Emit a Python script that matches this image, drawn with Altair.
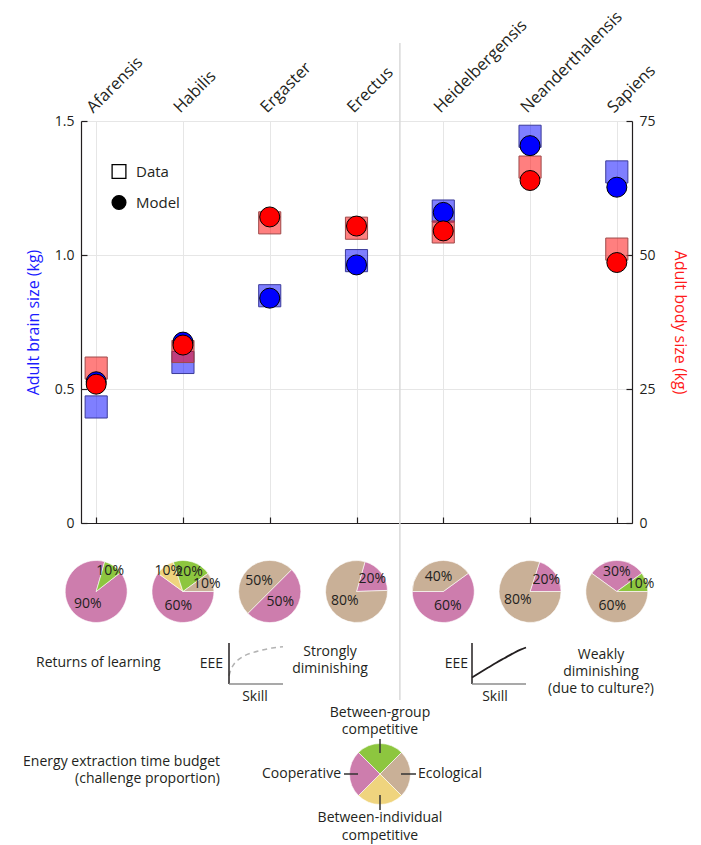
import math
import altair as alt
import pandas as pd

FONT = "Open Sans"
TXT = "#231f20"

# ---------------- data ----------------
species = ["Afarensis", "Habilis", "Ergaster", "Erectus",
           "Heidelbergensis", "Neanderthalensis", "Sapiens"]
brain_data = [0.433, 0.599, 0.848, 0.979, 1.164, 1.443, 1.310]
brain_model = [0.527, 0.675, 0.839, 0.963, 1.159, 1.408, 1.253]
body_data = [28.9, 32.0, 56.0, 55.0, 54.3, 66.4, 51.1]
body_model = [25.9, 33.2, 57.1, 55.4, 54.5, 63.9, 48.6]

challenges = ["Cooperative", "Between-individual competitive",
              "Between-group competitive", "Ecological"]
challenge_colors = ["#cd7dad", "#efd47e", "#8dc63f", "#c9b097"]
cooperative = [90, 60, 50, 20, 60, 20, 30]
between_individual = [0, 10, 0, 0, 0, 0, 0]
between_group = [10, 20, 0, 0, 0, 0, 10]
ecological = [0, 10, 50, 80, 40, 80, 60]
pie_start_deg = [52, 90, 45, 16, 54, 18, 306]

legend_pie_order = ["Between-group competitive", "Ecological",
                    "Between-individual competitive", "Cooperative"]
legend_pie_share = [25, 25, 25, 25]
legend_pie_start = -45

skill_strong = [0.0, 0.04, 0.10, 0.18, 0.30, 0.45, 0.62, 0.80, 1.0]
eee_strong = [0.20, 0.36, 0.50, 0.60, 0.70, 0.77, 0.83, 0.88, 0.91]
skill_weak = [0.0, 0.15, 0.30, 0.45, 0.60, 0.75, 0.90, 1.0]
eee_weak = [0.16, 0.28, 0.40, 0.52, 0.63, 0.74, 0.84, 0.89]

# ---------------- layout ----------------
W, H = 551, 402
idx = list(range(len(species)))
XDOM = [-0.175, 6.175]
BRAIN_DOM = [0, 1.5]
BODY_DOM = [0, 75]
PIE_Y = 470.5
PIE_R = 31


def xenc(field="idx:Q", axis=None):
    return alt.X(field, scale=alt.Scale(domain=XDOM), axis=axis, stack=False)


def one():
    return alt.Data(values=[{}])


def note(text, x, y, align="left", size=14, line_height=None, color=TXT):
    """y is the centre of the first line."""
    kw = dict(text=text, align=align, baseline="middle", fontSize=size,
              color=color, font=FONT)
    if line_height:
        kw["lineHeight"] = line_height
    return alt.Chart(one()).mark_text(**kw).encode(x=alt.value(x), y=alt.value(y))


def seg(x1, y1, x2, y2, color="#333333", width=1.5):
    return alt.Chart(one()).mark_rule(color=color, strokeWidth=width).encode(
        x=alt.value(x1), x2=alt.value(x2), y=alt.value(y1), y2=alt.value(y2))


# ---------------- axes ----------------
grid_col = "#e6e6e6"
axis_bottom = alt.Axis(orient="bottom", values=idx, labels=False, ticks=False,
                       tickSize=0, domain=True, domainColor=TXT, domainWidth=1.2,
                       grid=True, gridColor=grid_col, gridWidth=1, title=None)
axis_bottom_ticks = alt.Axis(orient="top", offset=-H, values=idx, labels=False,
                             domain=False, ticks=True, tickSize=6, tickColor=TXT,
                             tickWidth=1.2, grid=False, title=None)
axis_left = alt.Axis(orient="left", values=[0, 0.5, 1.0, 1.5],
                     labelExpr="datum.value == 0 ? '0' : format(datum.value, '.1f')",
                     title="Adult brain size (kg)", titleColor="#1a1aff",
                     titleFontSize=16, titleFontWeight="normal", titlePadding=13,
                     labelFontSize=14, labelPadding=7, labelColor=TXT,
                     ticks=False, tickSize=0, domainColor=TXT, domainWidth=1.2,
                     grid=True, gridColor=grid_col, gridWidth=1)
axis_right = alt.Axis(orient="right", values=[0, 25, 50, 75],
                      title="Adult body size (kg)", titleColor="#ff1a1a",
                      titleFontSize=16, titleFontWeight="normal", titlePadding=16,
                      labelFontSize=14, labelPadding=7, labelColor=TXT,
                      ticks=False, tickSize=0, domainColor=TXT, domainWidth=1.2,
                      grid=False)
axis_left_ticks = alt.Axis(orient="right", offset=-W, values=[0, 0.5, 1.0, 1.5],
                           labels=False, domain=False, ticks=True, tickSize=6,
                           tickColor=TXT, tickWidth=1.2, grid=False, title=None)
axis_right_ticks = alt.Axis(orient="left", offset=-W, values=[0, 25, 50, 75],
                            labels=False, domain=False, ticks=True, tickSize=6,
                            tickColor=TXT, tickWidth=1.2, grid=False, title=None)


def scatter(values, ydom, series, fill_col, stroke_col, kind, shape, size,
            fill_opacity, y_axis=None, x_axis=None, legend=None):
    df = pd.DataFrame({"idx": idx, "value": values, "series": series, "kind": kind})
    return alt.Chart(df).mark_point(filled=True, size=size, opacity=1,
                                    fillOpacity=fill_opacity, strokeWidth=1).encode(
        x=xenc(axis=x_axis),
        y=alt.Y("value:Q", scale=alt.Scale(domain=ydom), axis=y_axis, stack=False),
        fill=alt.Fill("series:N", scale=alt.Scale(domain=[series], range=[fill_col]), legend=None),
        stroke=alt.Stroke("series:N", scale=alt.Scale(domain=[series], range=[stroke_col]), legend=None),
        shape=alt.Shape("kind:N", scale=alt.Scale(domain=[kind], range=[shape]), legend=legend),
    )


def legend_for(fill, ly):
    return alt.Legend(title=None, orient="none", legendX=30, legendY=ly,
                      symbolSize=190, symbolStrokeWidth=1.3, symbolStrokeColor="black",
                      symbolFillColor=fill, symbolOpacity=1, labelFontSize=15,
                      labelFont=FONT, labelColor=TXT, labelOffset=9, padding=0)


brain_sq = scatter(brain_data, BRAIN_DOM, "brain", "#0000ff", "#3b3b99", "Data",
                   "square", 490, 0.5, y_axis=axis_left, x_axis=axis_bottom,
                   legend=legend_for("transparent", 42.5))
body_sq = scatter(body_data, BODY_DOM, "body", "#ff0000", "#9e4a4a", "Data",
                  "square", 490, 0.5, y_axis=axis_right, x_axis=axis_bottom_ticks)
brain_c = scatter(brain_model, BRAIN_DOM, "brain", "#0000ff", "#000000", "Model",
                  "circle", 400, 1, y_axis=axis_left_ticks,
                  legend=legend_for("black", 73.5))
body_c = scatter(body_model, BODY_DOM, "body", "#ff0000", "#000000", "Model",
                 "circle", 400, 1, y_axis=axis_right_ticks)

# species labels on top
top_labels = alt.Chart(pd.DataFrame({"idx": idx, "species": species})).mark_text(
    angle=315, align="left", baseline="alphabetic", fontSize=16.5, font=FONT,
    color=TXT, dx=-4).encode(x=xenc(), y=alt.value(-10), text="species:N")

# divider
divider = alt.Chart(one()).mark_rule(color="#d9d9d9", strokeWidth=1.5).encode(
    x=alt.X(datum=3.5, scale=alt.Scale(domain=XDOM), axis=None),
    y=alt.value(-78), y2=alt.value(579))

# ---------------- pies ----------------
rows = []
for i in idx:
    shares = [cooperative[i], between_individual[i], between_group[i], ecological[i]]
    a = pie_start_deg[i]
    for cat, p in zip(challenges, shares):
        if p <= 0:
            continue
        a0, a1 = a, a + p * 3.6
        rows.append({"idx": i, "category": cat, "label": f"{p}%",
                     "a0": math.radians(a0), "a1": math.radians(a1),
                     "mid": math.radians((a0 + a1) / 2),
                     "lr": 25 if p <= 10 else (20 if p <= 30 else 15)})
        a = a1
pie_df = pd.DataFrame(rows)
color_enc = alt.Color("category:N", scale=alt.Scale(domain=challenges, range=challenge_colors),
                      legend=None)

pies = alt.Chart(pie_df).mark_arc(radius=PIE_R, stroke="white", strokeWidth=0.6).encode(
    x=xenc(), y=alt.value(PIE_Y),
    theta=alt.Theta("a0:Q", scale=None, stack=False), theta2=alt.Theta2("a1:Q"),
    color=color_enc)
pie_labels = alt.Chart(pie_df).mark_text(fontSize=14, font=FONT, color=TXT,
                                         align="center", baseline="middle").encode(
    x=xenc(), y=alt.value(PIE_Y),
    theta=alt.Theta("mid:Q", scale=None, stack=False),
    radius=alt.Radius("lr:Q", scale=None), text="label:N")

lrows = []
a = legend_pie_start
for cat, p in zip(legend_pie_order, legend_pie_share):
    lrows.append({"category": cat, "a0": math.radians(a), "a1": math.radians(a + p * 3.6)})
    a += p * 3.6
legend_pie = alt.Chart(pd.DataFrame(lrows)).mark_arc(radius=30.5, stroke="white",
                                                     strokeWidth=0.6).encode(
    x=alt.value(299), y=alt.value(653),
    theta=alt.Theta("a0:Q", scale=None, stack=False), theta2=alt.Theta2("a1:Q"),
    color=color_enc)

# ---------------- returns of learning mini charts ----------------
def mini(skill, eee, x0, x1, dash, color, width):
    xs = alt.Scale(domain=[0, 1], range=[x0, x1])
    ys = alt.Scale(domain=[0, 1], range=[563, 522])
    df = pd.DataFrame({"skill": skill, "eee": eee})
    mk = dict(color=color, strokeWidth=width, interpolate="monotone")
    if dash:
        mk["strokeDash"] = dash
    curve = alt.Chart(df).mark_line(**mk).encode(
        x=alt.X("skill:Q", scale=xs, axis=None), y=alt.Y("eee:Q", scale=ys, axis=None))
    vline = alt.Chart(one()).mark_rule(color=TXT, strokeWidth=1.5).encode(
        x=alt.X(datum=0, scale=xs, axis=None), y=alt.Y(datum=0, scale=ys, axis=None),
        y2=alt.Y2(datum=1))
    hline = alt.Chart(one()).mark_rule(color="#8c8c8c", strokeWidth=1.5).encode(
        x=alt.X(datum=0, scale=xs, axis=None), x2=alt.X2(datum=1),
        y=alt.Y(datum=0, scale=ys, axis=None))
    return [curve, vline, hline]


mini1 = mini(skill_strong, eee_strong, 148, 202, [5, 4], "#b3b3b3", 1.5)
mini2 = mini(skill_weak, eee_weak, 391, 445, None, TXT, 1.8)

texts = [
    note("Returns of learning", -45, 542),
    note("EEE", 142, 543, align="right"),
    note("Skill", 174, 576, align="center"),
    note(["Strongly", "diminishing"], 249, 531, align="center", line_height=17),
    note("EEE", 387, 543, align="right"),
    note("Skill", 414, 576, align="center"),
    note(["Weakly", "diminishing", "(due to culture?)"], 520, 534, align="center",
         line_height=17),
    note(["Energy extraction time budget", "(challenge proportion)"], 139, 641,
         align="right", line_height=17),
    note(["Between-group", "competitive"], 299, 592, align="center", line_height=17),
    note("Cooperative", 260, 653, align="right"),
    note("Ecological", 337, 653, align="left"),
    note(["Between-individual", "competitive"], 299, 697, align="center", line_height=17.5),
]
leaders = [
    seg(299, 618, 299, 632),
    seg(320, 653, 335, 653),
    seg(263, 653, 277, 653),
    seg(299, 674, 299, 689),
]

layers = ([divider, pies, pie_labels, legend_pie] + leaders + mini1 + mini2 + texts
          + [top_labels, brain_sq, body_sq, brain_c, body_c])

chart = alt.layer(*layers).resolve_scale(
    x="independent", y="independent", shape="independent",
    fill="independent", stroke="independent"
).properties(
    width=W, height=H,
    padding={"left": 15, "top": 0, "right": 5, "bottom": 2},
).configure_view(stroke=None).configure_axis(
    labelFont=FONT, titleFont=FONT
)

chart.save("out.html", embed_options={"renderer": "svg", "actions": False})
